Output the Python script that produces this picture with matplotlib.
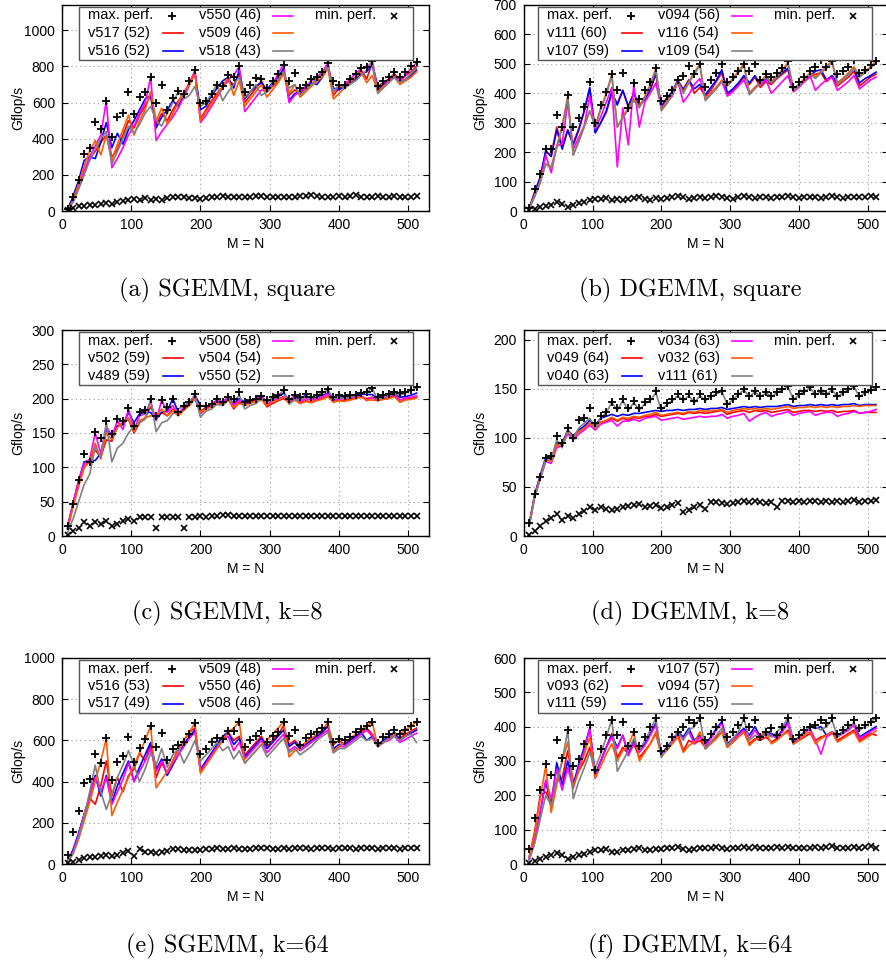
import matplotlib
matplotlib.use("Agg")
import matplotlib.pyplot as plt
from matplotlib.lines import Line2D
from matplotlib.patches import Rectangle

plt.rcParams['font.family'] = ['Liberation Sans', 'DejaVu Sans']

# problem sizes M = N
x = list(range(8, 513, 8))

# ---- (a) SGEMM, square ----
a_labels = ["v517 (52)", "v516 (52)", "v550 (46)", "v509 (46)", "v518 (43)"]
a_max = [10, 80, 172, 315, 350, 490, 455, 610,
         410, 520, 545, 660, 535, 630, 660, 740,
         600, 695, 560, 625, 665, 650, 720, 783,
         600, 610, 650, 700, 690, 750, 740, 800,
         660, 700, 735, 730, 680, 720, 760, 810,
         720, 765, 680, 700, 730, 740, 770, 820,
         720, 700, 700, 730, 760, 790, 795, 830,
         690, 720, 740, 770, 740, 770, 800, 822]
a_s1 = [5, 60, 140, 220, 290, 330, 380, 420,
        300, 340, 420, 500, 460, 530, 580, 640,
        480, 540, 500, 560, 610, 650, 710, 770,
        510, 560, 610, 650, 690, 720, 700, 760,
        600, 640, 680, 720, 660, 690, 720, 780,
        640, 670, 650, 680, 700, 730, 760, 800,
        640, 680, 700, 720, 740, 780, 730, 820,
        690, 710, 730, 760, 720, 750, 770, 800]
a_s2 = [10, 80, 170, 280, 300, 290, 380, 490,
        350, 430, 370, 450, 500, 560, 620, 640,
        460, 520, 560, 610, 580, 640, 700, 760,
        560, 580, 640, 680, 720, 740, 680, 780,
        620, 660, 690, 710, 670, 710, 740, 790,
        610, 650, 660, 690, 710, 700, 740, 800,
        680, 670, 690, 710, 730, 760, 770, 810,
        670, 700, 720, 750, 710, 730, 750, 780]
a_s3 = [5, 50, 130, 220, 300, 360, 420, 610,
        240, 290, 350, 420, 470, 540, 600, 740,
        390, 440, 480, 520, 570, 630, 700, 780,
        490, 530, 580, 630, 680, 730, 750, 800,
        550, 590, 630, 670, 660, 700, 760, 810,
        600, 640, 660, 690, 720, 740, 770, 820,
        660, 690, 700, 730, 760, 790, 790, 830,
        660, 690, 720, 750, 720, 750, 790, 820]
a_s4 = [5, 60, 150, 250, 330, 390, 310, 420,
        280, 370, 450, 530, 420, 500, 560, 660,
        500, 570, 480, 540, 600, 660, 700, 760,
        500, 550, 590, 640, 690, 740, 640, 720,
        580, 620, 660, 700, 630, 670, 710, 760,
        650, 700, 630, 660, 690, 720, 740, 790,
        620, 650, 680, 710, 740, 770, 710, 750,
        660, 690, 710, 740, 700, 720, 740, 770]
a_s5 = [5, 50, 120, 200, 280, 340, 400, 440,
        260, 330, 400, 470, 430, 480, 540, 580,
        500, 470, 540, 600, 660, 620, 640, 690,
        580, 600, 650, 700, 610, 660, 700, 740,
        630, 660, 700, 640, 660, 700, 730, 770,
        680, 700, 640, 670, 700, 730, 760, 800,
        660, 700, 680, 700, 720, 750, 780, 830,
        650, 680, 710, 740, 710, 730, 760, 790]
a_min = [5, 15, 25, 30, 32, 35, 40, 45,
         40, 50, 55, 62, 68, 62, 72, 60,
         65, 60, 70, 75, 80, 75, 72, 70,
         68, 72, 75, 80, 85, 78, 75, 80,
         75, 80, 82, 85, 80, 75, 78, 80,
         75, 80, 82, 85, 88, 82, 78, 75,
         80, 82, 80, 85, 88, 80, 75, 80,
         82, 78, 80, 85, 80, 75, 80, 82]

# ---- (b) DGEMM, square ----
b_labels = ["v111 (60)", "v107 (59)", "v094 (56)", "v116 (54)", "v109 (54)"]
b_max = [10, 75, 125, 210, 210, 325, 285, 395,
         285, 315, 355, 437, 300, 360, 405, 465,
         410, 468, 350, 435, 380, 410, 440, 487,
         375, 390, 410, 445, 460, 493, 465, 500,
         420, 445, 470, 500, 440, 455, 475, 500,
         475, 500, 445, 465, 455, 470, 485, 510,
         420, 440, 455, 475, 490, 512, 490, 510,
         465, 475, 490, 512, 470, 480, 495, 510]
b_s1 = [10, 60, 110, 200, 190, 285, 220, 275,
        230, 280, 340, 415, 270, 300, 335, 400,
        365, 410, 355, 400, 360, 380, 410, 465,
        355, 380, 400, 440, 415, 445, 400, 420,
        390, 410, 440, 470, 395, 410, 430, 455,
        430, 455, 420, 440, 430, 450, 465, 480,
        410, 425, 440, 455, 465, 470, 440, 455,
        425, 440, 455, 475, 425, 440, 455, 465]
b_s2 = [10, 65, 115, 205, 185, 275, 210, 275,
        225, 275, 340, 420, 265, 300, 340, 405,
        360, 410, 355, 400, 355, 380, 415, 470,
        355, 385, 405, 445, 410, 445, 415, 430,
        395, 420, 445, 480, 400, 415, 435, 460,
        435, 460, 430, 450, 435, 455, 470, 485,
        415, 430, 445, 460, 475, 480, 445, 460,
        435, 450, 465, 485, 435, 450, 460, 472]
b_s3 = [8, 50, 100, 190, 130, 220, 230, 370,
        210, 250, 290, 390, 280, 320, 370, 420,
        150, 350, 225, 430, 285, 370, 400, 435,
        350, 370, 390, 440, 370, 395, 430, 450,
        380, 400, 420, 440, 390, 405, 425, 445,
        400, 420, 430, 445, 400, 420, 440, 460,
        405, 420, 440, 460, 410, 430, 445, 455,
        410, 425, 440, 460, 415, 430, 445, 455]
b_s4 = [10, 55, 100, 160, 150, 220, 290, 390,
        190, 240, 290, 340, 290, 350, 400, 465,
        285, 320, 350, 380, 355, 390, 430, 485,
        345, 370, 400, 440, 405, 440, 470, 500,
        380, 400, 420, 445, 430, 450, 475, 500,
        400, 420, 440, 460, 440, 460, 480, 505,
        415, 430, 450, 470, 455, 475, 490, 510,
        435, 450, 470, 490, 460, 475, 490, 510]
b_s5 = [8, 50, 95, 160, 145, 215, 285, 385,
        190, 235, 285, 340, 285, 345, 395, 460,
        285, 315, 345, 375, 350, 385, 425, 480,
        340, 365, 395, 435, 400, 435, 465, 495,
        375, 395, 415, 440, 425, 445, 470, 495,
        395, 415, 435, 455, 435, 455, 475, 500,
        410, 425, 445, 465, 450, 470, 485, 505,
        430, 445, 465, 485, 455, 470, 485, 505]
b_min = [2, 8, 12, 18, 22, 30, 25, 15,
         22, 28, 32, 38, 42, 40, 45, 38,
         40, 36, 40, 45, 48, 42, 38, 45,
         42, 44, 48, 50, 46, 40, 44, 48,
         45, 48, 50, 46, 44, 42, 46, 50,
         48, 45, 48, 46, 44, 46, 48, 50,
         46, 44, 46, 48, 46, 45, 48, 52,
         46, 45, 47, 48, 46, 48, 50, 48]

# ---- (c) SGEMM, k=8 ----
c_labels = ["v502 (59)", "v489 (59)", "v500 (58)", "v504 (54)", "v550 (52)"]
c_max = [15, 47, 82, 120, 108, 152, 143, 167,
         148, 170, 168, 187, 160, 180, 183, 200,
         175, 198, 188, 200, 180, 190, 195, 207,
         190, 190, 192, 200, 195, 203, 200, 209,
         195, 198, 200, 204, 198, 203, 206, 213,
         200, 205, 203, 207, 203, 206, 209, 214,
         203, 205, 204, 205, 206, 208, 210, 216,
         203, 205, 207, 210, 208, 210, 213, 217]
c_s1 = [10, 45, 75, 100, 110, 125, 115, 140,
        138, 160, 165, 170, 150, 165, 172, 188,
        172, 180, 175, 185, 178, 185, 192, 200,
        182, 187, 190, 195, 192, 200, 185, 195,
        190, 195, 198, 200, 188, 193, 197, 200,
        195, 200, 193, 197, 195, 198, 200, 204,
        195, 198, 197, 200, 201, 203, 200, 202,
        197, 200, 201, 205, 195, 199, 200, 202]
c_s2 = [12, 48, 80, 108, 110, 110, 120, 155,
        148, 160, 162, 180, 165, 178, 180, 180,
        170, 180, 182, 200, 180, 185, 192, 205,
        190, 188, 192, 198, 195, 202, 193, 200,
        195, 198, 200, 203, 195, 200, 203, 208,
        198, 203, 198, 205, 200, 203, 205, 208,
        198, 203, 202, 203, 205, 207, 206, 206,
        200, 203, 205, 208, 202, 203, 205, 208]
c_s3 = [15, 47, 82, 105, 112, 150, 120, 160,
        145, 168, 155, 185, 155, 175, 178, 195,
        168, 198, 180, 190, 178, 188, 195, 205,
        178, 185, 190, 198, 195, 202, 190, 198,
        192, 197, 200, 205, 192, 197, 200, 203,
        196, 205, 195, 200, 198, 200, 203, 207,
        196, 200, 200, 202, 203, 205, 197, 202,
        198, 202, 203, 207, 198, 201, 202, 204]
c_s4 = [10, 42, 72, 100, 108, 135, 112, 150,
        140, 158, 165, 172, 152, 168, 172, 175,
        175, 185, 175, 182, 175, 183, 190, 200,
        180, 185, 188, 192, 190, 198, 187, 193,
        190, 193, 196, 198, 190, 195, 198, 202,
        193, 198, 193, 196, 194, 197, 199, 203,
        195, 197, 196, 198, 200, 202, 198, 198,
        197, 199, 200, 203, 195, 198, 199, 201]
c_s5 = [5, 25, 50, 75, 90, 130, 115, 165,
        108, 128, 135, 150, 160, 165, 170, 200,
        152, 165, 168, 178, 185, 190, 195, 205,
        173, 182, 185, 192, 190, 198, 195, 205,
        185, 190, 193, 200, 195, 200, 205, 212,
        192, 198, 198, 203, 200, 205, 208, 213,
        200, 202, 200, 203, 205, 208, 210, 215,
        198, 202, 205, 208, 205, 208, 212, 216]
c_min = [2, 8, 12, 20, 15, 20, 18, 22,
         15, 18, 22, 25, 22, 27, 28, 28,
         12, 28, 28, 28, 28, 12, 28, 28,
         29, 28, 29, 29, 30, 30, 29, 29,
         29, 29, 29, 29, 29, 29, 29, 29,
         29, 29, 29, 29, 29, 29, 29, 29,
         29, 29, 29, 29, 29, 29, 29, 29,
         29, 29, 29, 29, 29, 29, 29, 29]

# ---- (d) DGEMM, k=8 ----
d_labels = ["v049 (64)", "v040 (63)", "v034 (63)", "v032 (63)", "v111 (61)"]
d_max = [13, 43, 60, 80, 82, 102, 95, 110,
         100, 118, 120, 130, 115, 122, 126, 137,
         130, 140, 130, 138, 130, 137, 140, 148,
         130, 136, 140, 145, 140, 145, 138, 145,
         140, 143, 147, 148, 135, 140, 145, 150,
         143, 148, 143, 147, 143, 147, 150, 153,
         140, 145, 148, 152, 145, 148, 145, 150,
         143, 147, 150, 153, 143, 147, 149, 152]
d_s1 = [12, 42, 60, 78, 78, 92, 95, 105,
        100, 106, 110, 115, 112, 116, 117, 120,
        117, 120, 118, 121, 120, 122, 122, 124,
        122, 123, 124, 125, 124, 126, 125, 126,
        125, 126, 127, 128, 124, 126, 127, 128,
        126, 128, 127, 128, 126, 127, 128, 129,
        126, 127, 128, 128, 127, 128, 127, 128,
        126, 127, 127, 128, 125, 126, 126, 126]
d_s2 = [12, 42, 62, 80, 78, 95, 95, 108,
        102, 108, 112, 118, 113, 120, 122, 124,
        122, 124, 123, 125, 125, 126, 127, 128,
        127, 128, 128, 129, 128, 129, 129, 130,
        129, 130, 130, 131, 129, 130, 131, 132,
        131, 132, 131, 132, 132, 132, 133, 134,
        132, 133, 133, 134, 133, 134, 133, 134,
        133, 134, 134, 135, 133, 134, 134, 134]
d_s3 = [10, 40, 58, 76, 74, 90, 92, 104,
        98, 104, 108, 113, 108, 114, 116, 118,
        112, 117, 117, 119, 117, 120, 121, 122,
        118, 119, 120, 121, 119, 120, 121, 122,
        121, 122, 122, 124, 120, 122, 123, 125,
        117, 121, 124, 126, 122, 124, 125, 127,
        123, 125, 126, 127, 123, 125, 126, 126,
        122, 124, 125, 127, 125, 126, 127, 129]
d_s4 = [12, 40, 60, 78, 76, 93, 93, 106,
        100, 106, 110, 115, 110, 116, 118, 121,
        118, 121, 120, 122, 121, 123, 124, 126,
        123, 124, 125, 126, 125, 127, 126, 128,
        127, 128, 128, 129, 126, 128, 129, 130,
        129, 130, 129, 130, 129, 130, 131, 132,
        130, 131, 131, 132, 131, 132, 131, 132,
        131, 132, 132, 133, 132, 133, 133, 133]
d_s5 = [10, 40, 58, 78, 78, 98, 90, 108,
        100, 110, 115, 120, 110, 120, 126, 136,
        128, 138, 128, 136, 128, 135, 138, 146,
        128, 134, 138, 143, 138, 143, 136, 143,
        138, 142, 145, 147, 134, 139, 144, 149,
        142, 147, 142, 146, 142, 146, 149, 152,
        139, 144, 147, 151, 144, 147, 144, 149,
        142, 146, 149, 152, 142, 146, 148, 151]
d_min = [1, 5, 10, 15, 18, 22, 16, 20,
         18, 22, 25, 30, 27, 30, 28, 27,
         28, 30, 31, 32, 33, 30, 31, 32,
         29, 30, 32, 34, 24, 27, 30, 32,
         28, 35, 35, 34, 33, 34, 35, 36,
         35, 36, 35, 34, 35, 30, 36, 36,
         35, 36, 35, 36, 36, 35, 36, 35,
         36, 35, 36, 37, 35, 36, 36, 37]

# ---- (e) SGEMM, k=64 ----
e_labels = ["v516 (53)", "v517 (49)", "v509 (48)", "v550 (46)", "v508 (46)"]
e_max = [45, 155, 255, 395, 415, 535, 490, 610,
         410, 495, 525, 615, 495, 565, 605, 670,
         570, 635, 505, 560, 580, 590, 630, 685,
         535, 560, 590, 610, 605, 645, 645, 690,
         570, 600, 620, 645, 590, 620, 640, 690,
         620, 650, 580, 610, 630, 640, 660, 690,
         590, 605, 600, 615, 640, 655, 670, 690,
         585, 615, 630, 650, 630, 650, 670, 690]
e_s1 = [10, 60, 140, 240, 320, 290, 380, 500,
        330, 420, 350, 430, 460, 540, 500, 580,
        420, 490, 440, 500, 560, 600, 640, 660,
        450, 490, 530, 570, 600, 640, 600, 620,
        530, 560, 590, 620, 570, 600, 630, 670,
        580, 600, 570, 590, 610, 620, 640, 670,
        580, 600, 580, 600, 620, 640, 660, 630,
        570, 590, 610, 630, 610, 630, 645, 660]
e_s2 = [12, 70, 150, 240, 330, 430, 330, 430,
        300, 380, 440, 500, 400, 470, 530, 590,
        460, 510, 430, 480, 530, 580, 620, 650,
        460, 500, 540, 580, 620, 640, 580, 610,
        520, 550, 580, 610, 560, 590, 620, 650,
        570, 590, 560, 580, 600, 620, 640, 670,
        560, 580, 580, 600, 620, 640, 600, 620,
        580, 600, 620, 640, 600, 620, 635, 650]
e_s3 = [10, 60, 140, 240, 330, 420, 350, 420,
        290, 350, 410, 490, 400, 450, 500, 560,
        450, 500, 440, 490, 530, 570, 610, 640,
        450, 490, 530, 570, 600, 620, 550, 590,
        510, 540, 570, 600, 540, 570, 600, 630,
        550, 570, 550, 570, 590, 610, 630, 650,
        540, 570, 570, 590, 610, 630, 650, 620,
        570, 590, 600, 620, 590, 605, 620, 635]
e_s4 = [8, 50, 120, 210, 300, 400, 500, 610,
        235, 300, 360, 420, 480, 540, 600, 670,
        370, 410, 450, 500, 550, 600, 640, 685,
        440, 480, 520, 560, 600, 640, 660, 690,
        490, 520, 550, 580, 600, 630, 660, 690,
        520, 550, 560, 590, 610, 630, 650, 690,
        550, 570, 590, 610, 630, 650, 670, 690,
        570, 590, 610, 630, 630, 650, 670, 690]
e_s5 = [8, 50, 130, 230, 350, 480, 350, 265,
        340, 420, 480, 550, 480, 400, 460, 540,
        480, 560, 470, 530, 560, 490, 540, 600,
        500, 530, 560, 590, 550, 570, 510, 550,
        490, 520, 550, 580, 520, 550, 580, 610,
        540, 560, 530, 550, 570, 600, 620, 640,
        540, 560, 560, 580, 600, 620, 600, 610,
        570, 590, 610, 620, 600, 620, 630, 590]
e_min = [3, 10, 20, 30, 32, 35, 38, 45,
         40, 45, 55, 65, 40, 72, 60, 58,
         55, 60, 65, 72, 75, 70, 68, 70,
         68, 72, 74, 76, 75, 74, 76, 75,
         73, 75, 76, 77, 76, 74, 75, 76,
         75, 76, 77, 76, 75, 76, 77, 76,
         75, 76, 77, 76, 75, 76, 77, 76,
         75, 76, 77, 76, 75, 76, 77, 78]

# ---- (f) DGEMM, k=64 ----
f_labels = ["v093 (62)", "v111 (59)", "v107 (57)", "v094 (57)", "v116 (55)"]
f_max = [45, 135, 215, 290, 260, 360, 310, 390,
         285, 305, 350, 405, 275, 335, 375, 420,
         375, 415, 345, 385, 345, 370, 400, 425,
         330, 345, 370, 385, 400, 420, 410, 425,
         360, 380, 400, 420, 370, 385, 405, 425,
         400, 420, 370, 385, 395, 375, 400, 425,
         365, 375, 390, 400, 405, 420, 410, 425,
         380, 390, 405, 420, 395, 405, 415, 425]
f_s1 = [20, 95, 200, 210, 180, 240, 250, 330,
        240, 270, 300, 340, 260, 300, 340, 380,
        310, 340, 320, 350, 310, 330, 350, 380,
        320, 335, 355, 380, 330, 360, 350, 360,
        340, 355, 370, 385, 340, 355, 370, 385,
        350, 365, 360, 370, 355, 365, 375, 390,
        350, 360, 370, 380, 360, 370, 375, 385,
        360, 370, 380, 390, 360, 370, 380, 375]
f_s2 = [15, 70, 150, 240, 170, 295, 230, 300,
        230, 290, 340, 395, 260, 300, 340, 375,
        340, 375, 320, 360, 330, 350, 380, 410,
        320, 340, 360, 385, 370, 395, 360, 375,
        350, 370, 395, 415, 350, 365, 380, 395,
        375, 400, 370, 385, 380, 370, 390, 415,
        355, 370, 385, 400, 395, 400, 375, 385,
        375, 385, 395, 410, 370, 380, 390, 400]
f_s3 = [15, 70, 150, 245, 190, 275, 215, 280,
        220, 280, 330, 395, 250, 300, 340, 370,
        335, 375, 315, 350, 325, 345, 375, 405,
        315, 335, 355, 380, 365, 385, 350, 370,
        345, 365, 390, 410, 345, 360, 375, 390,
        365, 390, 365, 380, 375, 365, 385, 410,
        350, 365, 380, 395, 360, 320, 370, 380,
        370, 380, 390, 405, 365, 375, 385, 395]
f_s4 = [20, 90, 190, 285, 150, 230, 300, 355,
        225, 270, 320, 370, 250, 285, 320, 350,
        300, 330, 345, 385, 300, 325, 350, 385,
        315, 330, 350, 370, 325, 345, 355, 385,
        335, 350, 365, 385, 340, 355, 370, 385,
        345, 360, 375, 385, 350, 360, 375, 385,
        350, 360, 375, 385, 350, 365, 375, 385,
        355, 365, 375, 385, 355, 365, 375, 388]
f_s5 = [10, 60, 130, 200, 170, 245, 300, 390,
        190, 240, 280, 325, 280, 320, 370, 420,
        270, 300, 330, 365, 330, 360, 390, 425,
        310, 335, 360, 385, 360, 390, 400, 425,
        335, 355, 375, 395, 345, 365, 385, 425,
        360, 375, 365, 380, 370, 385, 400, 425,
        360, 370, 385, 400, 400, 390, 400, 420,
        370, 385, 395, 410, 390, 400, 415, 425]
f_min = [2, 8, 15, 20, 25, 32, 25, 15,
         20, 25, 30, 35, 40, 42, 45, 35,
         35, 40, 42, 45, 48, 42, 40, 45,
         45, 48, 48, 50, 45, 42, 45, 48,
         47, 48, 50, 48, 45, 46, 48, 50,
         48, 49, 47, 46, 48, 49, 48, 50,
         47, 46, 47, 48, 49, 48, 50, 52,
         46, 47, 48, 49, 48, 50, 51, 48]

colors = ["#ff0000", "#0000ff", "#ff00ff", "#ff5a00", "#808080"]

panels = [
    ("(a) SGEMM, square", a_labels, a_max, [a_s1, a_s2, a_s3, a_s4, a_s5], a_min, 1140, 200),
    ("(b) DGEMM, square", b_labels, b_max, [b_s1, b_s2, b_s3, b_s4, b_s5], b_min, 700, 100),
    ("(c) SGEMM, k=8", c_labels, c_max, [c_s1, c_s2, c_s3, c_s4, c_s5], c_min, 300, 50),
    ("(d) DGEMM, k=8", d_labels, d_max, [d_s1, d_s2, d_s3, d_s4, d_s5], d_min, 210, 50),
    ("(e) SGEMM, k=64", e_labels, e_max, [e_s1, e_s2, e_s3, e_s4, e_s5], e_min, 1000, 200),
    ("(f) DGEMM, k=64", f_labels, f_max, [f_s1, f_s2, f_s3, f_s4, f_s5], f_min, 600, 100),
]

W, H = 887, 967
fig = plt.figure(figsize=(W / 100, H / 100), dpi=100)

col_left = [62, 523.7]
col_width = [367, 364.7]
row_top = [5, 330, 658]
ax_h = 206
cap_y = [290, 613, 946]
cap_x = [227, 690]
leg_left = [79, 538]


def fx(px):
    return px / W


def fy(py):
    return 1 - py / H


def key_text(px, py, s):
    fig.text(fx(px), fy(py), s, fontsize=10.5, ha="left", va="center", zorder=7)


def key_line(px, py, col):
    fig.add_artist(Line2D([fx(px), fx(px + 20)], [fy(py), fy(py)], color=col,
                          linewidth=1.2, transform=fig.transFigure, zorder=7))


def key_marker(px, py, m, ms, mew):
    fig.add_artist(Line2D([fx(px)], [fy(py)], linestyle="none", marker=m, color="black",
                          markersize=ms, markeredgewidth=mew,
                          transform=fig.transFigure, zorder=7))


for i, (title, labels, vmax, series, vmin, ytop, ystep) in enumerate(panels):
    r, c = divmod(i, 2)
    ax = fig.add_axes([fx(col_left[c]), fy(row_top[r] + ax_h),
                       col_width[c] / W, ax_h / H])
    ax.plot(x, vmax, linestyle="none", marker="+", color="black",
            markersize=6, markeredgewidth=1.3, zorder=4)
    for s, col in zip(series, colors):
        ax.plot(x, s, color=col, linewidth=1.2, zorder=3)
    ax.plot(x, vmin, linestyle="none", marker="x", color="black",
            markersize=5, markeredgewidth=1.2, zorder=4)

    ax.set_xlim(0, 530)
    ax.set_ylim(0, ytop)
    ax.set_xticks(range(0, 501, 100))
    ax.set_yticks(range(0, ytop + 1, ystep))
    ax.tick_params(direction="in", top=True, right=True, length=4,
                   labelsize=10, pad=5)
    ax.grid(True, linestyle=(0, (1, 3)), color="#999999", linewidth=0.8)
    for sp in ax.spines.values():
        sp.set_linewidth(1.0)
    ax.set_xlabel("M = N", fontsize=10)
    ax.set_ylabel("Gflop/s", fontsize=10)
    ax.xaxis.set_label_coords(0.5, -0.125)
    ax.yaxis.set_label_coords(-0.10, 0.5)

    # key box: text on the left, sample on the right, three columns
    L = leg_left[c]
    T = row_top[r] + 2
    fig.add_artist(Rectangle((fx(L), fy(T + 53)), 334 / W, 53 / H,
                             transform=fig.transFigure, facecolor="white",
                             edgecolor="#555555", linewidth=1.0, zorder=6))
    rows = [T + 8.5, T + 26, T + 43.5]
    key_text(L + 9, rows[0], "max. perf.")
    key_marker(L + 93, rows[0], "+", 6, 1.3)
    key_text(L + 236, rows[0], "min. perf.")
    key_marker(L + 315, rows[0], "x", 5, 1.2)
    slots = [(0, 1), (0, 2), (1, 0), (1, 1), (1, 2)]
    for (kc, kr), lab, col in zip(slots, labels, colors):
        tx = L + 9 if kc == 0 else L + 120
        hx = L + 84 if kc == 0 else L + 194
        key_text(tx, rows[kr], lab)
        key_line(hx, rows[kr], col)

    fig.text(fx(cap_x[c]), fy(cap_y[r]), title, family="cmr10",
             fontsize=17.5, ha="center", va="center")

fig.savefig("out.png", dpi=100)
